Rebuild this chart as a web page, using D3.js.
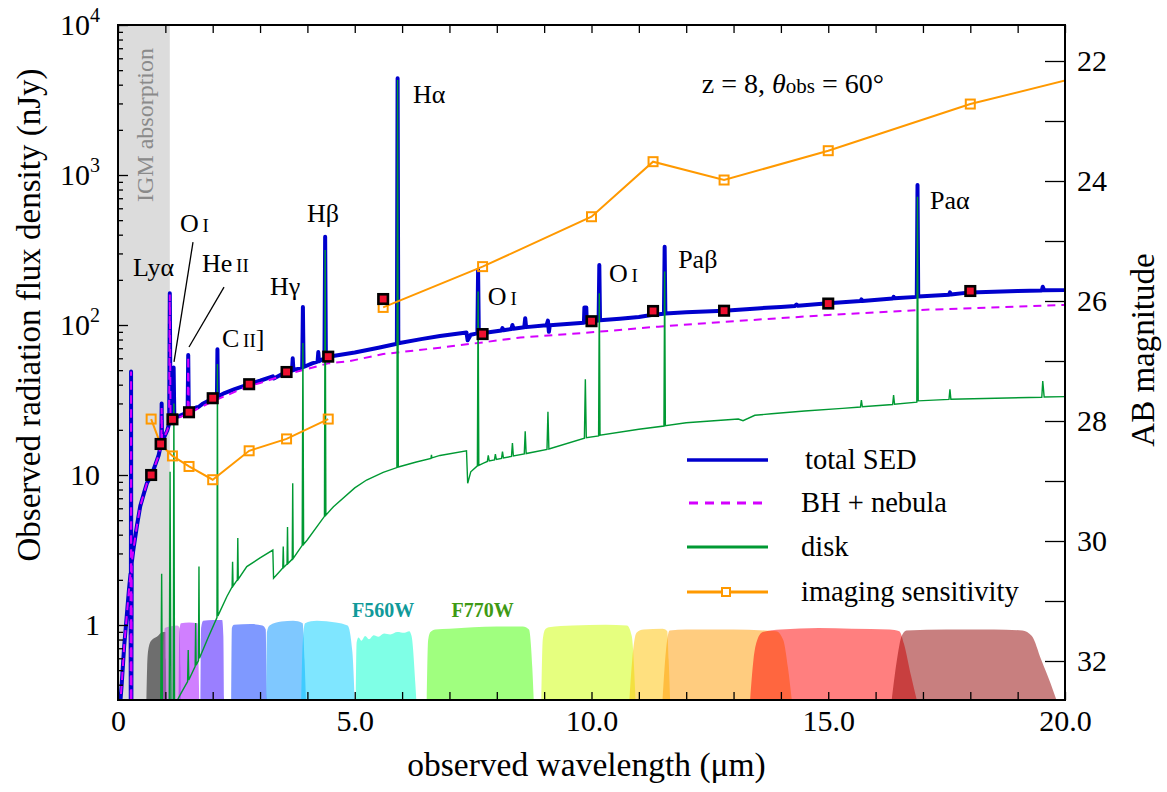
<!DOCTYPE html>
<html>
<head>
<meta charset="utf-8">
<script src="https://cdn.jsdelivr.net/npm/d3@7"></script>
<style>
  body { margin: 0; background: #fff; }
  text { font-family: "Liberation Serif", "Times New Roman", serif; fill: #000; }
</style>
</head>
<body>
<svg id="chart" width="1167" height="792"></svg>
<script>
// spectrum components, [wavelength (um), flux (nJy)]
const totalSED = [
  [0.04, 0.28], [0.08, 0.41], [0.13, 0.72], [0.18, 1.1], [0.23, 1.7], [0.265, 2.2],
  [0.270, 0.25], [0.276, 49], [0.282, 0.25],
  [0.29, 2.6], [0.32, 3.1], [0.40, 4.6], [0.47, 6.2], [0.55, 7.6], [0.61, 8.8],
  [0.71, 10.0], [0.80, 12.0], [0.86, 13.6], [0.90, 15.6], [0.915, 16.3], [0.922, 30], [0.93, 16.8],
  [0.98, 18.0], [1.04, 19.8], [1.08, 22.0], [1.094, 163], [1.11, 22.5], [1.155, 23.5],
  [1.165, 23.8], [1.175, 52], [1.19, 24.0], [1.30, 24.8], [1.40, 25.6], [1.47, 26.0], [1.483, 63], [1.495, 26.3],
  [1.60, 27.2], [1.65, 28.2], [1.70, 28.4], [1.80, 30.0], [2.01, 32.5], [2.09, 33.2], [2.10, 69], [2.11, 33.4],
  [2.25, 35.2], [2.45, 37.2], [2.77, 40.3], [3.0, 42.5], [3.27, 45.5], [3.29, 44.0], [3.45, 46.8], [3.57, 48.6],
  [3.675, 49.6], [3.69, 60], [3.705, 50.0], [3.89, 52.0], [3.905, 132], [3.92, 52.5], [4.10, 55.5],
  [4.215, 57.0], [4.23, 66], [4.245, 57.3], [4.36, 60.0], [4.375, 388], [4.39, 60.5], [4.44, 61.5],
  [5.0, 65.5], [5.5, 70.5], [5.89, 75.0], [5.905, 4410], [5.92, 75.5], [6.4, 80.5], [6.8, 84.5],
  [7.36, 89.0], [7.385, 79.0], [7.45, 86.0], [7.59, 88.0], [7.605, 233], [7.62, 88.2], [7.72, 88.5],
  [8.10, 92.0], [8.12, 95.5], [8.14, 92.3], [8.31, 94.0], [8.33, 100], [8.35, 94.3], [8.58, 96.5],
  [8.60, 111], [8.62, 96.8], [9.05, 99.5], [9.08, 107], [9.10, 90.0], [9.12, 99.8], [9.84, 103.5],
  [9.85, 131], [9.89, 131], [9.90, 104], [10.02, 106], [10.15, 107], [10.165, 251], [10.18, 107.5],
  [10.6, 110], [11.0, 113], [11.3, 117], [11.53, 119], [11.545, 332], [11.56, 119.5], [12.0, 121.5],
  [12.8, 124.6], [13.5, 129], [14.0, 132], [14.3, 134], [14.33, 137], [14.36, 134.2], [15.0, 139.5],
  [15.68, 144.5], [15.70, 148], [15.72, 144.8], [16.36, 150], [16.38, 154], [16.40, 150.5], [16.87, 154],
  [16.885, 857], [16.90, 155], [17.55, 159], [17.57, 165], [17.59, 159.5], [18.0, 165], [19.0, 168.5],
  [19.51, 170], [19.53, 180], [19.56, 170.5], [20.0, 171], [20.2, 172]
];

const bhNebula = [
  [0.04, 0.28], [0.08, 0.41], [0.13, 0.72], [0.18, 1.1], [0.23, 1.7], [0.265, 2.2],
  [0.270, 0.25], [0.276, 49], [0.282, 0.25],
  [0.29, 2.6], [0.32, 3.1], [0.40, 4.6], [0.47, 6.2], [0.55, 7.6], [0.61, 8.8],
  [0.71, 10.0], [0.80, 12.0], [0.86, 13.6], [0.90, 15.6], [0.915, 16.3], [0.922, 28], [0.93, 16.8],
  [0.98, 18.0], [1.04, 19.8], [1.08, 22.0], [1.094, 160], [1.11, 22.3], [1.20, 23.2], [1.30, 24.2],
  [1.47, 25.6], [1.483, 62], [1.495, 25.9], [1.70, 27.8], [2.0, 31.0], [2.3, 34.0], [2.72, 38.8],
  [3.0, 41.0], [3.56, 46.8], [4.0, 51.0], [4.44, 55.5], [4.9, 57.5], [5.6, 64.0], [6.8, 70.6],
  [7.72, 76.7], [8.5, 82.5], [10.0, 89.4], [11.41, 97.5], [12.8, 105], [15.0, 116.6], [16.94, 126],
  [20.0, 136], [20.2, 137]
];

const disk = [
  [0.90, 0.2], [0.922, 2.2], [0.94, 0.2], [1.08, 0.2], [1.10, 10.5], [1.12, 0.2],
  [1.165, 0.2], [1.18, 30], [1.195, 0.2], [1.24, 0.31], [1.35, 0.36], [1.47, 0.42], [1.483, 0.68],
  [1.495, 0.43], [1.63, 0.53], [1.64, 1.03], [1.65, 0.54], [1.70, 0.58], [1.71, 2.45], [1.72, 0.6],
  [1.90, 0.82], [2.09, 1.12], [2.10, 55], [2.11, 1.15], [2.30, 1.55], [2.41, 1.8], [2.42, 2.64],
  [2.43, 1.82], [2.52, 2.0], [2.53, 3.8], [2.54, 2.02], [2.72, 2.45], [3.0, 2.8], [3.27, 3.16],
  [3.285, 2.05], [3.40, 2.25], [3.48, 2.4], [3.49, 3.33], [3.50, 2.42], [3.57, 2.55], [3.58, 4.5],
  [3.59, 2.57], [3.68, 2.75], [3.69, 8.8], [3.70, 2.78], [3.89, 3.4], [3.905, 76], [3.92, 3.45],
  [4.0, 3.7], [4.36, 5.3], [4.375, 316], [4.39, 5.4], [4.55, 6.15], [5.0, 8.2], [5.25, 9.26],
  [5.6, 10.4], [5.89, 11.2], [5.905, 4300], [5.92, 11.3], [6.3, 12.2], [6.61, 12.9], [6.62, 13.6],
  [6.63, 13.0], [6.8, 13.5], [7.36, 14.5], [7.385, 8.8], [7.45, 10.5], [7.59, 11.5], [7.605, 167],
  [7.62, 11.6], [7.72, 12.0], [7.80, 12.3], [7.82, 13.5], [7.84, 12.4], [7.95, 12.6], [7.97, 13.8],
  [7.99, 12.7], [8.10, 12.9], [8.12, 14.3], [8.14, 13.0], [8.31, 13.3], [8.33, 16.3], [8.35, 13.4],
  [8.58, 13.8], [8.60, 19.6], [8.62, 13.9], [9.06, 14.8], [9.08, 26.4], [9.10, 14.9], [9.85, 17.6],
  [9.87, 43.5], [9.89, 17.7], [10.15, 18.2], [10.165, 163], [10.18, 18.4], [11.0, 20.2], [11.53, 21.2],
  [11.545, 227], [11.56, 21.3], [12.0, 22.3], [13.1, 23.6], [13.2, 23.0], [13.45, 25.0], [13.8, 25.6],
  [14.5, 26.7], [15.3, 27.8], [15.68, 28.4], [15.70, 31.6], [15.72, 28.5], [16.36, 29.5], [16.38, 34.1],
  [16.40, 29.6], [16.87, 30.6], [16.885, 717], [16.90, 31.2], [17.55, 31.9], [17.57, 37.3], [17.59, 32.0],
  [19.51, 33.0], [19.53, 42.3], [19.56, 33.1], [20.0, 33.3], [20.2, 33.4]
];

// synthetic photometry of total SED
const photoWave = [0.70, 0.90, 1.15, 1.50, 2.00, 2.77, 3.56, 4.44, 5.60, 7.70, 10.0, 11.3, 12.8, 15.0, 18.0];
const photoFlux = [10.0, 16.1, 23.5, 26.2, 32.5, 40.3, 48.6, 61.5, 149, 87, 106, 124, 124.5, 139, 168.5];

// imaging sensitivity (NIRCam, MIRI)
const nircamWave = [0.70, 0.90, 1.15, 1.50, 2.00, 2.77, 3.56, 4.44];
const nircamSens = [23.6, 16.0, 13.4, 11.4, 9.3, 14.5, 17.4, 23.6];
const miriWave = [5.60, 7.70, 10.0, 11.3, 12.8, 15.0, 18.0, 21.0];
const miriSens = [131, 245, 527, 1227, 926, 1452, 2972, 5100];

// filter transmission, [wavelength (um), relative throughput]
const filterNames = ['F070W', 'F115W', 'F150W', 'F200W', 'F277W', 'F356W', 'F444W',
  'F560W', 'F770W', 'F1000W', 'F1130W', 'F1280W', 'F1500W', 'F1800W'];
const filterColors = ['#000000', '#b94ddf', '#a100ff', '#3500ff', '#0033ff', '#0091ff', '#00cdff',
  '#00ffcd', '#41ff00', '#cdff00', '#ffc100', '#ff9900', '#ff0000', '#910000'];
const filterCurves = [
  [[0.60, 0], [0.615, 0.4], [0.64, 0.63], [0.70, 0.74], [0.82, 0.79], [0.95, 0.85], [1.00, 0.85], [1.01, 0.5], [1.02, 0]],
  [[0.94, 0], [0.96, 0.6], [0.99, 0.9], [1.10, 0.92], [1.25, 0.93], [1.30, 0.9], [1.32, 0.4], [1.33, 0]],
  [[1.28, 0], [1.295, 0.85], [1.33, 0.96], [1.50, 0.97], [1.68, 0.96], [1.70, 0.5], [1.715, 0]],
  [[1.74, 0], [1.755, 0.9], [1.80, 0.99], [2.00, 1.0], [2.20, 1.0], [2.225, 0.8], [2.24, 0]],
  [[2.39, 0], [2.405, 0.9], [2.45, 0.94], [2.80, 0.95], [3.05, 0.93], [3.12, 0.88], [3.14, 0]],
  [[3.13, 0], [3.145, 0.85], [3.20, 0.93], [3.45, 0.98], [3.70, 0.99], [3.90, 0.96], [3.94, 0.5], [3.97, 0]],
  [[3.87, 0], [3.90, 0.7], [3.95, 0.96], [4.20, 0.99], [4.60, 0.97], [4.85, 0.93], [4.95, 0.6], [5.00, 0]],
  [[5.02, 0], [5.04, 0.72], [5.08, 0.78], [5.14, 0.74], [5.22, 0.80], [5.30, 0.76], [5.40, 0.81], [5.50, 0.79],
   [5.62, 0.83], [5.75, 0.82], [5.90, 0.85], [6.05, 0.84], [6.15, 0.86], [6.20, 0.8], [6.28, 0.2], [6.30, 0]],
  [[6.52, 0], [6.55, 0.75], [6.60, 0.85], [6.70, 0.88], [7.00, 0.89], [7.50, 0.91], [8.00, 0.92], [8.55, 0.92],
   [8.68, 0.88], [8.75, 0.4], [8.78, 0]],
  [[8.94, 0], [8.97, 0.75], [9.02, 0.88], [9.10, 0.91], [9.60, 0.93], [10.3, 0.94], [10.75, 0.93], [10.85, 0.8], [10.93, 0]],
  [[10.80, 0], [10.86, 0.5], [10.95, 0.84], [11.10, 0.88], [11.50, 0.89], [11.60, 0.86], [11.63, 0.5], [11.66, 0]],
  [[11.50, 0], [11.57, 0.6], [11.65, 0.87], [12.0, 0.88], [13.0, 0.88], [13.9, 0.86], [14.05, 0.75], [14.15, 0.4], [14.23, 0]],
  [[13.35, 0], [13.42, 0.5], [13.50, 0.75], [13.62, 0.85], [14.0, 0.88], [14.8, 0.9], [15.5, 0.89], [16.3, 0.88],
   [16.5, 0.86], [16.6, 0.7], [16.75, 0.3], [16.87, 0]],
  [[16.34, 0], [16.45, 0.5], [16.55, 0.8], [16.65, 0.87], [17.5, 0.88], [18.5, 0.88], [19.1, 0.87], [19.3, 0.8],
   [19.5, 0.5], [19.7, 0.2], [19.82, 0]]
];

const igmEdge = 1.094;
const xTickValues = [0, 5, 10, 15, 20];
const xTickLabels = ['0', '5.0', '10.0', '15.0', '20.0'];
const yMajorValues = [1, 10, 100, 1000, 10000];
const magTickValues = [22, 23, 24, 25, 26, 27, 28, 29, 30, 31, 32];

// emission line labels placed at (wavelength, flux)
const lineLabels = [
  {text: 'Lyα', sc: '', tail: '', x: 0.317, f: 212},
  {text: 'O', sc: 'I', tail: '', x: 1.31, f: 417},
  {text: 'He', sc: 'II', tail: '', x: 1.774, f: 226},
  {text: 'Hγ', sc: '', tail: '', x: 3.21, f: 158},
  {text: 'C', sc: 'II', tail: ']', x: 2.196, f: 71},
  {text: 'Hβ', sc: '', tail: '', x: 3.99, f: 486},
  {text: 'Hα', sc: '', tail: '', x: 6.23, f: 3020},
  {text: 'O', sc: 'I', tail: '', x: 7.81, f: 136},
  {text: 'O', sc: 'I', tail: '', x: 10.37, f: 193},
  {text: 'Paβ', sc: '', tail: '', x: 11.83, f: 240},
  {text: 'Paα', sc: '', tail: '', x: 17.15, f: 593}
];

const margin = {top: 25, right: 102, bottom: 92, left: 118};
const W = 1167, H = 792;
const width = W - margin.left - margin.right;
const height = H - margin.top - margin.bottom;

const svg = d3.select('#chart');
const chart = svg.append('g')
  .attr('transform', 'translate(' + margin.left + ',' + margin.top + ')');

const x = d3.scaleLinear().domain([0, 20]).range([0, width]);
const y = d3.scaleLog().domain([Math.pow(10, -0.5), 1e4]).range([height, 0]);
// AB magnitude for flux in nJy: m = 31.4 - 2.5 log10(f)
const yMag = d3.scaleLinear().domain([31.4 - 2.5 * 4, 31.4 + 2.5 * 0.5]).range([0, height]);
const yT = d3.scaleLinear().domain([0, 1]).range([height, height - 80]);

chart.append('clipPath').attr('id', 'plotclip')
  .append('rect').attr('width', width).attr('height', height);

const plot = chart.append('g').attr('clip-path', 'url(#plotclip)');

// IGM absorption band
plot.append('rect')
  .attr('x', 0).attr('y', 0)
  .attr('width', x(igmEdge)).attr('height', height)
  .style('fill', '#dcdcdc');

chart.append('text')
  .attr('transform', 'translate(' + (x(igmEdge) / 2 + 9) + ',' + 100 + ') rotate(-90)')
  .style('text-anchor', 'middle')
  .style('font-size', '24px')
  .style('fill', '#8a8a8a')
  .text('IGM absorption');

// filter curves
const filterArea = d3.area()
  .x(d => x(d[0]))
  .y0(height)
  .y1(d => yT(d[1]))
  .curve(d3.curveMonotoneX);

plot.selectAll('.filter')
  .data(filterCurves)
  .enter()
  .append('path')
  .attr('class', 'filter')
  .attr('d', filterArea)
  .style('fill', (d, i) => filterColors[i])
  .style('fill-opacity', 0.5);

chart.append('text')
  .attr('x', x(5.6)).attr('y', 592)
  .style('text-anchor', 'middle')
  .style('font-size', '20px').style('font-weight', 'bold')
  .style('fill', '#119a9a')
  .text('F560W');

chart.append('text')
  .attr('x', x(7.7)).attr('y', 592)
  .style('text-anchor', 'middle')
  .style('font-size', '20px').style('font-weight', 'bold')
  .style('fill', '#3f9a14')
  .text('F770W');

const line = d3.line()
  .x(d => x(d[0]))
  .y(d => y(d[1]));

plot.append('path')
  .datum(totalSED)
  .attr('d', line)
  .style('fill', 'none')
  .style('stroke', '#0000cd')
  .style('stroke-width', 4)
  .style('stroke-linejoin', 'round');

plot.append('path')
  .datum(bhNebula)
  .attr('d', line)
  .style('fill', 'none')
  .style('stroke', '#d400ff')
  .style('stroke-width', 2)
  .style('stroke-dasharray', '8,6');

plot.append('path')
  .datum(disk)
  .attr('d', line)
  .style('fill', 'none')
  .style('stroke', '#009933')
  .style('stroke-width', 1.4);

// sensitivity curves
const sensSets = [
  d3.zip(nircamWave, nircamSens),
  d3.zip(miriWave, miriSens)
];

sensSets.forEach((set) => {
  plot.append('path')
    .datum(set)
    .attr('d', line)
    .style('fill', 'none')
    .style('stroke', '#ff9900')
    .style('stroke-width', 2);

  plot.selectAll(null)
    .data(set)
    .enter()
    .append('rect')
    .attr('x', d => x(d[0]) - 4.5)
    .attr('y', d => y(d[1]) - 4.5)
    .attr('width', 9).attr('height', 9)
    .style('fill', 'none')
    .style('stroke', '#ff9900')
    .style('stroke-width', 2);
});

// photometry points
plot.selectAll('.phot')
  .data(d3.zip(photoWave, photoFlux))
  .enter()
  .append('rect')
  .attr('class', 'phot')
  .attr('x', d => x(d[0]) - 4.75)
  .attr('y', d => y(d[1]) - 4.75)
  .attr('width', 9.5).attr('height', 9.5)
  .style('fill', '#ee1030')
  .style('stroke', '#000')
  .style('stroke-width', 2.6);

// line labels
lineLabels.forEach((l) => {
  const t = chart.append('text')
    .attr('x', x(l.x))
    .attr('y', y(l.f))
    .style('font-size', '26px');
  t.append('tspan').text(l.text);
  if (l.sc) {
    t.append('tspan').style('font-size', '19px').text('\u2009' + l.sc);
  }
  if (l.tail) {
    t.append('tspan').text(l.tail);
  }
});

// pointer lines for O I and He II
chart.append('line')
  .attr('x1', x(1.584)).attr('y1', y(357))
  .attr('x2', x(1.183)).attr('y2', y(56.7))
  .style('stroke', '#000').style('stroke-width', 1.3);
chart.append('line')
  .attr('x1', x(2.239)).attr('y1', y(179))
  .attr('x2', x(1.50)).attr('y2', y(71.3))
  .style('stroke', '#000').style('stroke-width', 1.3);

// redshift / angle note
const note = chart.append('text')
  .attr('x', x(12.33)).attr('y', 68)
  .style('font-size', '28px');
note.append('tspan').text('z = 8, ');
note.append('tspan').style('font-style', 'italic').text('θ');
note.append('tspan').style('font-size', '21px').text('obs');
note.append('tspan').text(' = 60°');

// legend
const legendItems = ['total SED', 'BH + nebula', 'disk', 'imaging sensitivity'];
const legendY = [435, 478, 522, 567];
const legend = chart.append('g');
legendItems.forEach((name, i) => {
  const ly = legendY[i];
  const ln = legend.append('line')
    .attr('x1', 569).attr('x2', 650)
    .attr('y1', ly).attr('y2', ly)
    .style('stroke-width', 3);
  if (i === 0) ln.style('stroke', '#0000cd').style('stroke-width', 3.5);
  if (i === 1) ln.style('stroke', '#d400ff').style('stroke-dasharray', '9,7').attr('x1', 571);
  if (i === 2) ln.style('stroke', '#009933');
  if (i === 3) {
    ln.style('stroke', '#ff9900');
    legend.append('rect')
      .attr('x', 604).attr('y', ly - 4).attr('width', 8).attr('height', 8)
      .style('fill', '#fff').style('stroke', '#ff9900').style('stroke-width', 2);
  }
  legend.append('text')
    .attr('x', i === 0 ? 687 : 683)
    .attr('y', ly + 9)
    .style('font-size', '28.5px')
    .text(name);
});

// axes
const xBottom = d3.axisBottom(x)
  .tickValues(d3.range(0, 21))
  .tickSizeInner(-8).tickSizeOuter(0).tickPadding(10)
  .tickFormat(d => {
    const i = xTickValues.indexOf(d);
    return i >= 0 ? xTickLabels[i] : '';
  });
const xTop = d3.axisTop(x)
  .tickValues(d3.range(0, 21))
  .tickSizeInner(-8).tickSizeOuter(0)
  .tickFormat('');

const yMinorValues = y.ticks().filter(v => yMajorValues.indexOf(v) < 0);
const yMinor = d3.axisLeft(y)
  .tickValues(yMinorValues)
  .tickSizeInner(-5).tickSizeOuter(0)
  .tickFormat('');
const yMajor = d3.axisLeft(y)
  .tickValues(yMajorValues)
  .tickSizeInner(-10).tickSizeOuter(0).tickPadding(18)
  .tickFormat(d => d);

const magAxis = d3.axisRight(yMag)
  .tickValues(magTickValues)
  .tickSizeInner(-20).tickSizeOuter(0).tickPadding(12)
  .tickFormat(d => (d % 2 === 0 ? d : ''));

chart.append('g').attr('class', 'axis')
  .attr('transform', 'translate(0,' + height + ')')
  .call(xBottom);
chart.append('g').attr('class', 'axis').call(xTop);
chart.append('g').attr('class', 'axis').call(yMinor);
const yMajorG = chart.append('g').attr('class', 'axis').call(yMajor);
chart.append('g').attr('class', 'axis')
  .attr('transform', 'translate(' + width + ',0)')
  .call(magAxis);

yMajorG.selectAll('.tick text').each(function(d) {
  const exp = Math.round(Math.log10(d));
  if (exp < 2) return;
  const t = d3.select(this).text('');
  t.append('tspan').text('10');
  t.append('tspan').attr('dy', '-13').style('font-size', '20px').text(exp);
});

chart.selectAll('.axis .domain').remove();
chart.selectAll('.axis .tick line')
  .style('stroke', '#000').style('stroke-width', 1.3);
chart.selectAll('.axis .tick text')
  .style('font-size', '30px')
  .style('font-family', '"Liberation Serif", serif')
  .style('fill', '#000');

chart.append('rect')
  .attr('width', width).attr('height', height)
  .style('fill', 'none')
  .style('stroke', '#000')
  .style('stroke-width', 2);

// axis titles
svg.append('text')
  .attr('x', margin.left + width / 2 - 5)
  .attr('y', 776)
  .style('text-anchor', 'middle')
  .style('font-size', '33.5px')
  .text('observed wavelength (μm)');

svg.append('text')
  .attr('transform', 'translate(40,' + 315 + ') rotate(-90)')
  .style('text-anchor', 'middle')
  .style('font-size', '33px')
  .text('Observed radiation flux density (nJy)');

svg.append('text')
  .attr('transform', 'translate(1154,' + 350 + ') rotate(-90)')
  .style('text-anchor', 'middle')
  .style('font-size', '33px')
  .text('AB magnitude');
</script>
</body>
</html>
